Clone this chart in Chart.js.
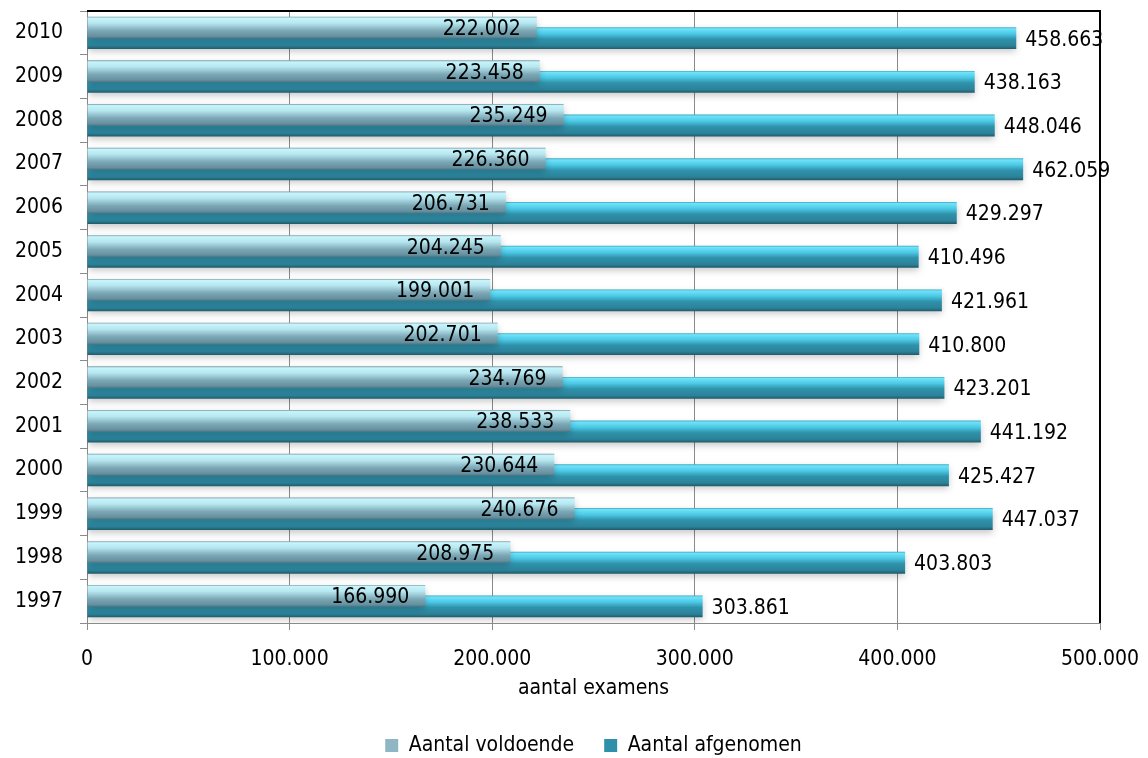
<!DOCTYPE html>
<html><head><meta charset="utf-8">
<script src="https://cdn.jsdelivr.net/npm/chart.js@4.4.1/dist/chart.umd.min.js"></script>
<style>html,body{margin:0;padding:0;background:#fff;}</style>
</head><body>
<canvas id="c" width="1148" height="758"></canvas>
<script>
const years = ['1997','1998','1999','2000','2001','2002','2003','2004','2005','2006','2007','2008','2009','2010'];
const voldoende = [166990,208975,240676,230644,238533,234769,202701,199001,204245,206731,226360,235249,223458,222002];
const afgenomen = [303861,403803,447037,425427,441192,423201,410800,421961,410496,429297,462059,448046,438163,458663];
const xTickValues = [0,100000,200000,300000,400000,500000];
const seriesNames = ['Aantal voldoende','Aantal afgenomen'];
const axisTitle = 'aantal examens';

const FONT = '"DejaVu Sans Condensed", "DejaVu Sans", sans-serif';
const FS = 21;
const CP = 0.482, BP = 2.08;
function fmt(v){ return String(v).replace(/\B(?=(\d{3})+(?!\d))/g,'.'); }

const stopsV = [[0,'#7c9aa4'],[0.07,'#c8f5fc'],[0.3,'#b6e6ef'],[0.65,'#7ba6b4'],[0.9,'#66909f'],[1,'#4d7280']];
const stopsA = [[0,'#3aa6c0'],[0.07,'#6fe3f8'],[0.3,'#4cc9e6'],[0.55,'#2f92ab'],[0.85,'#2b8299'],[1,'#1f5a69']];
const legendFill = ['#8fb6c3','#2f90a9'];

function grad(ctx, stops, fallback){
  const chart = ctx.chart;
  if (ctx.type !== 'data' || !chart.chartArea || !chart.scales.y) return fallback;
  const ys = chart.scales.y;
  const cat = Math.abs(ys.getPixelForValue(1) - ys.getPixelForValue(0));
  const c = ys.getPixelForValue(ctx.dataIndex);
  const size = cat * CP, chunk = size / 2, h = chunk * BP;
  const center = c - size / 2 + chunk * (ctx.datasetIndex + 0.5);
  if (!isFinite(center)) return fallback;
  const g = chart.ctx.createLinearGradient(0, center - h / 2, 0, center + h / 2);
  stops.forEach(s => g.addColorStop(s[0], s[1]));
  return g;
}

const valuePlugin = {
  id: 'vals',
  beforeDatasetsDraw(chart){
    const ctx = chart.ctx;
    ctx.save();
    ctx.shadowColor = 'rgba(0,0,0,0.22)'; ctx.shadowBlur = 7; ctx.shadowOffsetY = 3;
  },
  afterDatasetsDraw(chart){
    const ctx = chart.ctx, a = chart.chartArea;
    ctx.restore();
    ctx.save();
    ctx.strokeStyle = '#000'; ctx.lineWidth = 2;
    ctx.beginPath(); ctx.moveTo(a.left, a.top); ctx.lineTo(a.right, a.top); ctx.lineTo(a.right, a.bottom); ctx.stroke();
    ctx.font = FS + 'px ' + FONT; ctx.fillStyle = '#000'; ctx.textBaseline = 'middle';
    chart.getDatasetMeta(0).data.forEach((bar, i) => { ctx.textAlign = 'right'; ctx.fillText(fmt(voldoende[i]), bar.x - 16, bar.y + 2); });
    chart.getDatasetMeta(1).data.forEach((bar, i) => { ctx.textAlign = 'left'; ctx.fillText(fmt(afgenomen[i]), bar.x + 9, bar.y + 2); });
    ctx.restore();
  }
};

function noPad(s){ s.paddingTop = 0; s.paddingBottom = 0; s.paddingLeft = 0; s.paddingRight = 0; }

new Chart(document.getElementById('c'), {
  type: 'bar',
  data: {
    labels: years,
    datasets: [
      { label: seriesNames[0], data: voldoende, backgroundColor: c => grad(c, stopsV, legendFill[0]), borderWidth: 0 },
      { label: seriesNames[1], data: afgenomen, backgroundColor: c => grad(c, stopsA, legendFill[1]), borderWidth: 0 }
    ]
  },
  options: {
    indexAxis: 'y',
    responsive: false,
    animation: false,
    devicePixelRatio: 1,
    categoryPercentage: CP,
    barPercentage: BP,
    layout: { padding: { top: 11, right: 48, left: 0, bottom: -8 } },
    scales: {
      y: {
        reverse: true,
        grid: { offset: true, drawOnChartArea: false, tickLength: 7, color: '#8a8a8a' },
        border: { color: '#8a8a8a' },
        ticks: { font: { family: FONT, size: FS }, color: '#000', padding: 17 },
        afterFit: s => { s.width = 87; noPad(s); }
      },
      x: {
        min: 0, max: 500000,
        afterBuildTicks: s => { s.ticks = xTickValues.map(v => ({ value: v })); },
        grid: { color: '#8a8a8a', tickLength: 7 },
        border: { color: '#8a8a8a' },
        ticks: { font: { family: FONT, size: FS, lineHeight: 1 }, color: '#000', padding: 19, callback: v => fmt(v) },
        title: { display: true, text: axisTitle, font: { family: FONT, size: FS, lineHeight: 1 }, color: '#000', padding: { top: 0, bottom: 6 } },
        afterFit: s => { s.height = 82; noPad(s); }
      }
    },
    plugins: {
      legend: {
        position: 'bottom',
        fullSize: false,
        labels: {
          font: { family: FONT, size: FS }, color: '#000', boxWidth: 13, boxHeight: 13, padding: 30,
          generateLabels: chart => chart.data.datasets.map((d, i) => ({
            text: d.label, fillStyle: legendFill[i], strokeStyle: legendFill[i], lineWidth: 0, datasetIndex: i, hidden: false
          }))
        }
      },
      tooltip: { enabled: false }
    }
  },
  plugins: [valuePlugin]
});
</script>
</body></html>
